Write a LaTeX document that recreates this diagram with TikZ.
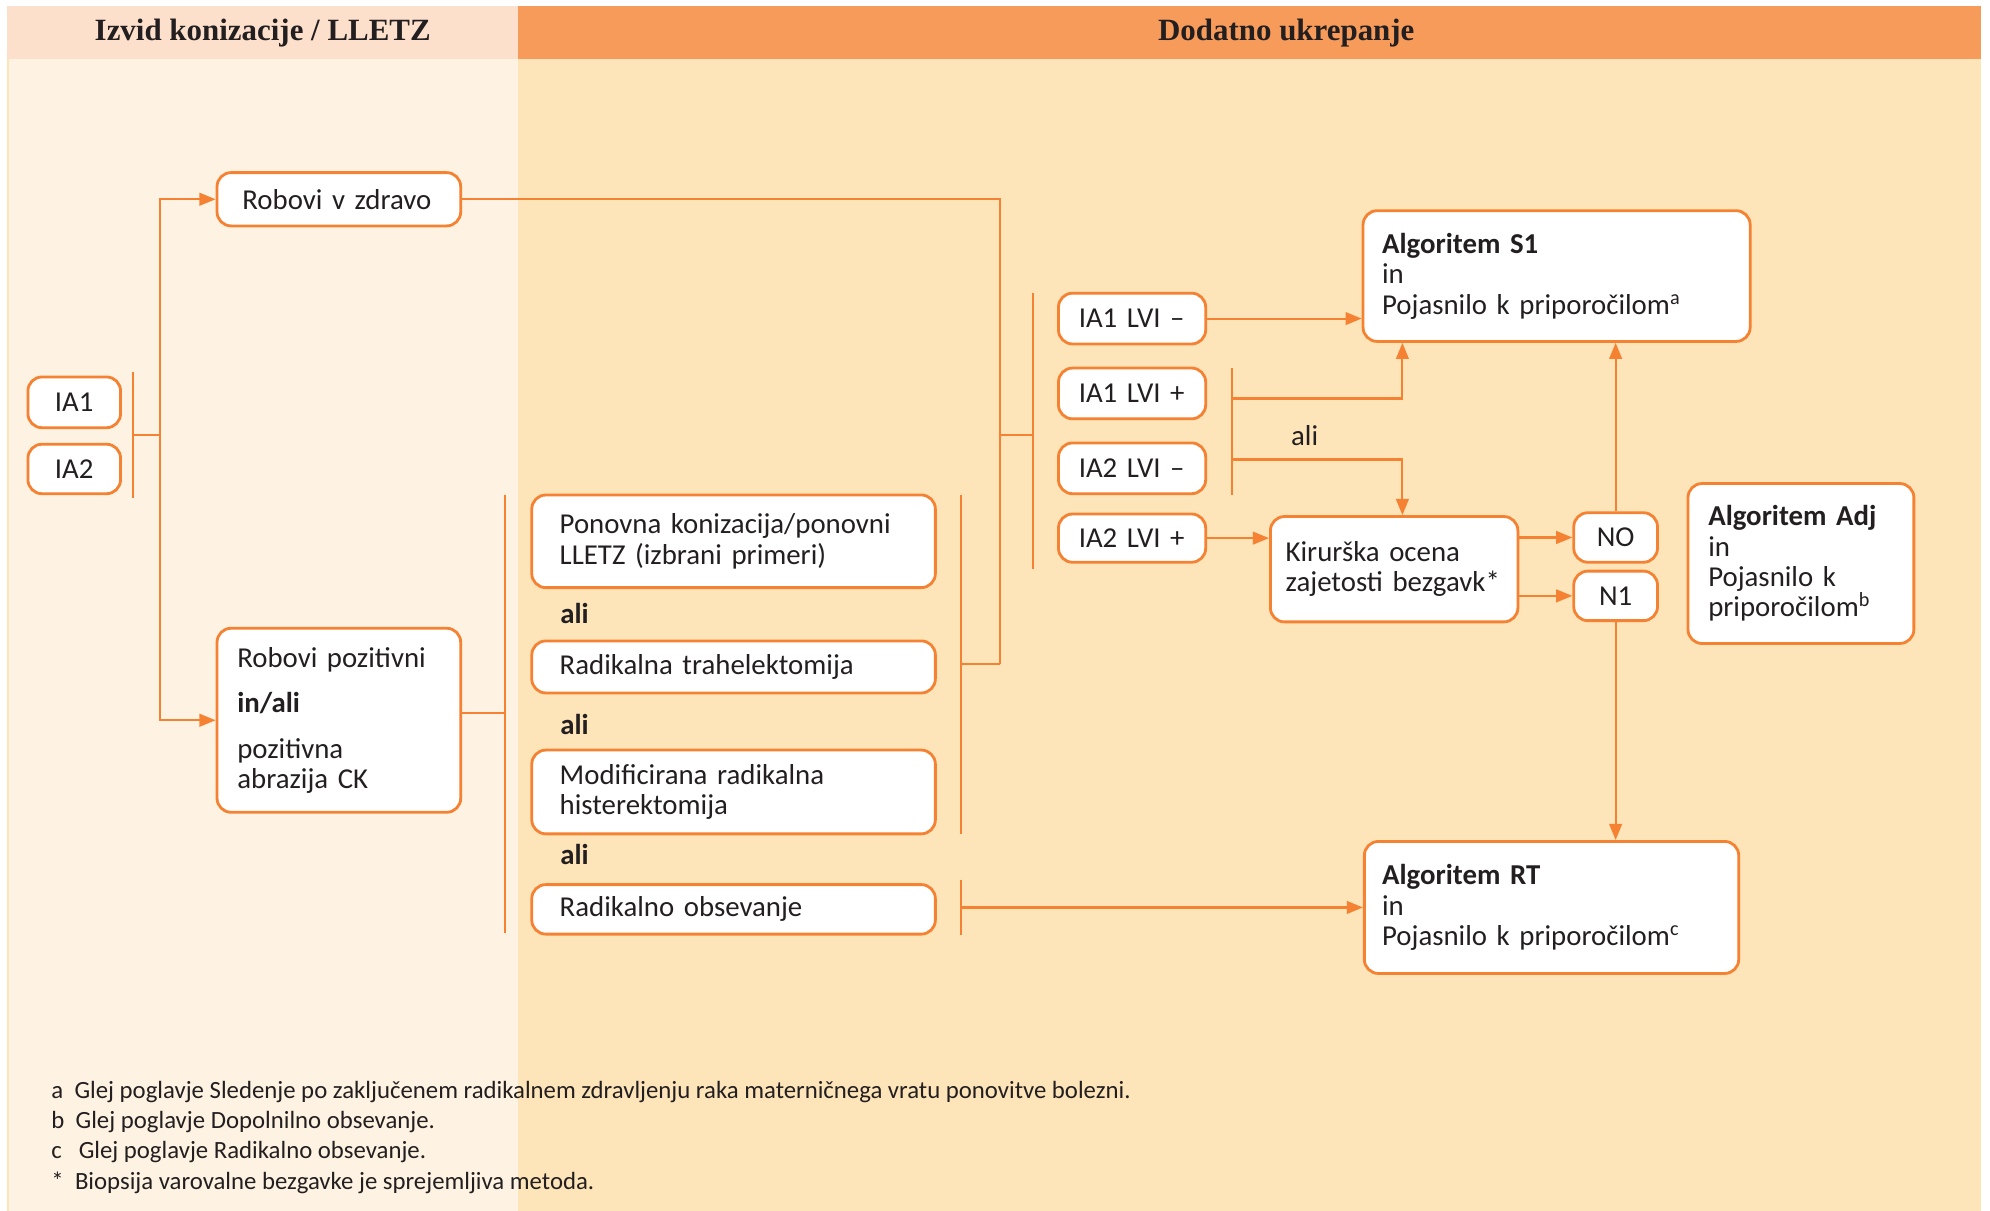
\documentclass[tikz,border=0pt]{standalone}
\usepackage{fontspec}
\setmainfont{Carlito}
\newfontfamily\headfont{Liberation Serif}
\usetikzlibrary{arrows.meta}
\definecolor{lineorange}{HTML}{F58232}
\definecolor{headpeach}{HTML}{FDE0CC}
\definecolor{headorange}{HTML}{F79B5A}
\definecolor{bodycream}{HTML}{FEF3E2}
\definecolor{bodysand}{HTML}{FDE4B9}
\definecolor{inkdark}{HTML}{231F20}
\newlength{\unitpx}
\setlength{\unitpx}{0.12691mm}
\newcommand{\bodyfont}{\fontsize{8.2}{8.65}\selectfont}
\newcommand{\notefont}{\fontsize{7.05}{8.65}\selectfont}

\begin{document}
\begin{tikzpicture}[x=0.12691mm,y=-0.12691mm,
    box/.style={draw=lineorange, line width=0.8pt, rounded corners=4pt, fill=white,
      text=inkdark, font=\bodyfont, inner ysep=0pt},
    tbox/.style 2 args={box, align=left, inner xsep=15\unitpx, text width=#1\unitpx,
      minimum height=#2\unitpx},
    cbox/.style 2 args={box, inner sep=0pt, minimum width=#1\unitpx, minimum height=#2\unitpx},
    alilabel/.style={font=\bodyfont\bfseries, text=inkdark, inner sep=0pt, anchor=west},
    headtext/.style={font={\headfont\fontsize{8.8}{10}\selectfont\bfseries}, text=inkdark},
    conn/.style={draw=lineorange, line width=0.6pt},
    arr/.style={conn, -{Triangle[length=4.6pt,width=3.6pt]}}]
  \pgfmathsetmacro{\optX}{578}
  \pgfmathsetmacro{\lviX}{892}
  \useasboundingbox (0,0) rectangle (1568,954);
  \fill[bodycream] (5.5,46.5) rectangle (408,954);
  \fill[bodysand] (408,46.5) rectangle (1561,954);
  \fill[headpeach] (5.5,4.7) rectangle (408,46.5);
  \fill[headorange] (408,4.7) rectangle (1561,46.5);
  \draw[bodysand, line width=0.6pt] (6.2,46.5) -- (6.2,954);
  \node[headtext] (headL) at (207,26) {Izvid konizacije / LLETZ};
  \node[headtext] (headR) at (1013.5,26) {Dodatno ukrepanje};

  \node[tbox={152}{42}, inner xsep=20\unitpx] (zdravo) at (267,157) {Robovi v zdravo};
  \node[cbox={73}{40}] (ia1) at (58.5,317) {IA1};
  \node[cbox={73}{39}] (ia2) at (58.5,369.5) {IA2};
  \node[tbox={160}{145}, inner xsep=16\unitpx] (pozit) at (267,567.5)
    {Robovi pozitivni\\[4.3pt]\textbf{in/ali}\\[4.3pt]pozitivna\\abrazija CK};

  \node[tbox={274}{73}, inner xsep=22\unitpx] (ponov) at (\optX,426.5)
    {Ponovna konizacija/ponovni\\LLETZ (izbrani primeri)};
  \node[alilabel] (ali1) at (441,483) {ali};
  \node[tbox={274}{41}, inner xsep=22\unitpx] (trahel) at (\optX,525.5) {Radikalna trahelektomija};
  \node[alilabel] (ali2) at (441,571) {ali};
  \node[tbox={274}{66}, inner xsep=22\unitpx] (modif) at (\optX,624)
    {Modificirana radikalna\\histerektomija};
  \node[alilabel] (ali3) at (441,673) {ali};
  \node[tbox={274}{39}, inner xsep=22\unitpx] (obsev) at (\optX,716.5) {Radikalno obsevanje};

  \node[tbox={84}{40}, inner xsep=16\unitpx] (lvi1) at (\lviX,251) {IA1 LVI –};
  \node[tbox={84}{40}, inner xsep=16\unitpx] (lvi2) at (\lviX,310) {IA1 LVI +};
  \node[tbox={84}{40}, inner xsep=16\unitpx] (lvi3) at (\lviX,369) {IA2 LVI –};
  \node[tbox={84}{38}, inner xsep=16\unitpx] (lvi4) at (\lviX,424) {IA2 LVI +};

  \node[tbox={275}{103}] (s1) at (1226.5,217.5)
    {\textbf{Algoritem S1}\\in\\Pojasnilo k priporočilom\textsuperscript{a}};
  \node[tbox={171}{83}, inner xsep=12\unitpx] (kir) at (1098.5,448.5)
    {\mbox{Kirurška ocena}\\\mbox{zajetosti bezgavk*}};
  \node[cbox={66}{39}] (no) at (1273,423.5) {NO};
  \node[cbox={66}{39}] (n1) at (1273,469.5) {N1};
  \node[tbox={146}{126}, inner xsep=16\unitpx] (adj) at (1419,444)
    {\textbf{Algoritem Adj}\\in\\Pojasnilo k\\priporočilom\textsuperscript{b}};
  \node[tbox={267}{104}, inner xsep=14\unitpx] (rt) at (1222.5,715)
    {\textbf{Algoritem RT}\\in\\Pojasnilo k priporočilom\textsuperscript{c}};
  \node[font=\bodyfont, text=inkdark, inner sep=0pt] (aliG) at (1028,343) {ali};

  \node[font=\notefont, text=inkdark, align=left, inner sep=0pt, anchor=west] (notes) at (40,896)
    {a~ Glej poglavje Sledenje po zaključenem radikalnem zdravljenju raka materničnega vratu ponovitve bolezni.\\
     b~ Glej poglavje Dopolnilno obsevanje.\\
     c~~ Glej poglavje Radikalno obsevanje.\\
     *~ Biopsija varovalne bezgavke je sprejemljiva metoda.};

  \coordinate (barA1) at (105,293);
  \coordinate (barA2) at (105,392);
  \coordinate (midA) at (105,343);
  \coordinate (jA) at (126,343);
  \draw[conn] (barA1) -- (barA2);
  \draw[conn] (midA) -- (jA);
  \draw[arr] (jA) |- (zdravo.west);
  \draw[arr] (jA) |- (pozit.west);

  \coordinate (barC1) at (398,390);
  \coordinate (barC2) at (398,735);
  \coordinate (midC) at (398,562);
  \draw[conn] (barC1) -- (barC2);
  \draw[conn] (pozit.east |- midC) -- (midC);

  \coordinate (barD1) at (757,390);
  \coordinate (barD2) at (757,657);
  \coordinate (midD) at (757,523);
  \coordinate (jD) at (788,523);
  \draw[conn] (barD1) -- (barD2);
  \draw[conn] (midD) -- (jD);
  \draw[conn] (zdravo.east) -| (jD);

  \coordinate (jF) at (788,343);
  \coordinate (midF) at (814,343);
  \coordinate (barF1) at (814,231);
  \coordinate (barF2) at (814,448);
  \draw[conn] (barF1) -- (barF2);
  \draw[conn] (jF) -- (midF);

  \coordinate (barE1) at (757,693);
  \coordinate (barE2) at (757,737);
  \coordinate (midE) at (757,715);
  \draw[conn] (barE1) -- (barE2);
  \draw[arr] (midE) -- (midE -| rt.west);

  \draw[arr] (lvi1.east) -- (lvi1.east -| s1.west);
  \coordinate (barG1) at (971,290);
  \coordinate (barG2) at (971,390);
  \coordinate (jG1) at (971,314);
  \coordinate (jG2) at (971,362);
  \coordinate (kirIn) at (1105,407);
  \draw[conn] (barG1) -- (barG2);
  \draw[arr] (jG1) -| (kirIn |- s1.south);
  \draw[arr] (jG2) -| (kirIn |- kir.north);
  \draw[arr] (lvi4.east) -- (lvi4.east -| kir.west);

  \draw[arr] (kir.east |- no.west) -- (no.west);
  \draw[arr] (kir.east |- n1.west) -- (n1.west);
  \draw[arr] (no.north) -- (no.north |- s1.south);
  \draw[arr] (n1.south) -- (n1.south |- rt.north);
\end{tikzpicture}
\end{document}
